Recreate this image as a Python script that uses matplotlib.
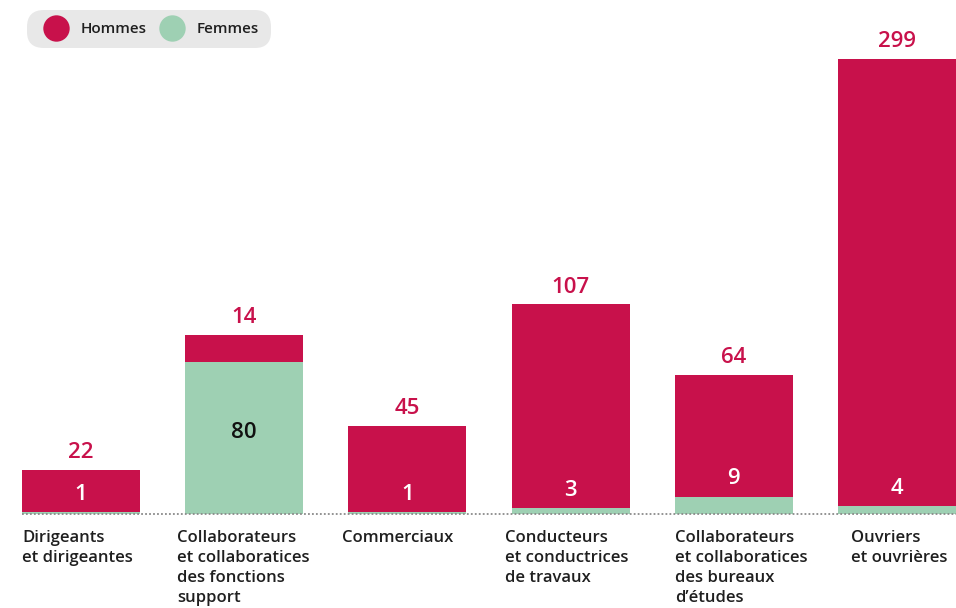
import matplotlib
matplotlib.use("Agg")
import matplotlib.pyplot as plt
from matplotlib.lines import Line2D
import numpy as np

categories = [
    "Dirigeants\net dirigeantes",
    "Collaborateurs\net collaboratices\ndes fonctions\nsupport",
    "Commerciaux",
    "Conducteurs\net conductrices\nde travaux",
    "Collaborateurs\net collaboratices\ndes bureaux\nd\u2019\u00e9tudes",
    "Ouvriers\net ouvri\u00e8res",
]
hommes = [22, 14, 45, 107, 64, 299]
femmes = [1, 80, 1, 3, 9, 4]

RED = "#C8114B"
GREEN = "#9ED0B3"
TEXT = "#1f1f1f"
FONT = ["Open Sans", "DejaVu Sans"]

W, H = 956, 608
fig = plt.figure(figsize=(W / 100, H / 100), dpi=100)
base_px = 514
top_px = 59
ax = fig.add_axes([0, (H - base_px) / H, 1, (base_px - top_px) / H])

x = np.arange(len(categories))
spacing = 163.2
bw = 118 / spacing
left_data = -81 / spacing
right_data = (W - 81) / spacing
ax.set_xlim(left_data, right_data)
ymax = (base_px - top_px) / 1.905
ax.set_ylim(0, ymax)
ax.axis("off")

f = np.array(femmes)
h = np.array(hommes)
ax.bar(x, f, width=bw, color=GREEN, zorder=2)
ax.bar(x, h, width=bw, bottom=f, color=RED, zorder=2)

ax.hlines(0, x[0] - bw / 2, right_data, colors="#8a8a8a", linewidth=1.3,
          linestyles=(0, (1, 1.2)), zorder=3, clip_on=False)

NUMSIZE = 16
for i in range(len(x)):
    total = min(h[i] + f[i], ymax)
    ax.annotate(str(h[i]), (x[i], total), xytext=(0, 5), textcoords="offset points",
                ha="center", va="bottom", color=RED, fontsize=NUMSIZE,
                fontweight="semibold", family=FONT, annotation_clip=False)
    if f[i] > 20:
        ax.annotate(str(f[i]), (x[i], f[i] / 2), xytext=(0, 4), textcoords="offset points",
                    ha="center", va="center", color="#111111", fontsize=NUMSIZE,
                    fontweight="semibold", family=FONT)
    else:
        ax.annotate(str(f[i]), (x[i], f[i]), xytext=(0, 13), textcoords="offset points",
                    ha="center", va="center", color="white", fontsize=NUMSIZE,
                    fontweight="semibold", family=FONT)

label_offsets_px = [0, -8, -6, -7, 0, 13]
for i, lab in enumerate(categories):
    ax.annotate(lab, (x[i] - bw / 2, 0), xytext=(label_offsets_px[i] * 0.72, -11.5),
                textcoords="offset points", ha="left", va="top", color=TEXT,
                fontsize=12, fontweight="semibold", family=FONT, linespacing=1.33,
                annotation_clip=False)

handles = [
    Line2D([], [], marker="o", linestyle="none", markersize=19, markerfacecolor=RED,
           markeredgecolor="none", label="Hommes"),
    Line2D([], [], marker="o", linestyle="none", markersize=19, markerfacecolor=GREEN,
           markeredgecolor="none", label="Femmes"),
]
leg = fig.legend(handles=handles, loc="upper left", bbox_to_anchor=(30 / W, 1 - 13 / H),
                 ncol=2, frameon=True, fancybox=True, facecolor="#e8e8e8",
                 edgecolor="none", framealpha=1, borderaxespad=0, handletextpad=0.5,
                 columnspacing=0.6, borderpad=0.6, handlelength=2.2,
                 prop={"family": FONT, "size": 11, "weight": "semibold"})
leg.get_frame().set_boxstyle("round,pad=0.2,rounding_size=1.1")
for t in leg.get_texts():
    t.set_color(TEXT)

fig.savefig("out.png", dpi=100)
